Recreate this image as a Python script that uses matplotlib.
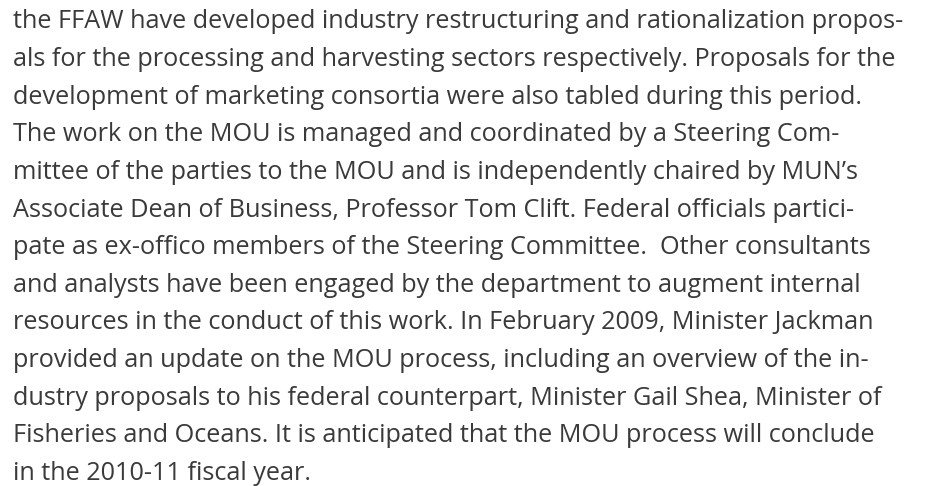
import matplotlib
matplotlib.use("Agg")
import matplotlib.pyplot as plt

# paragraph text, one entry per rendered line
lines = [
    "the FFAW have developed industry restructuring and rationalization propos-",
    "als for the processing and harvesting sectors respectively. Proposals for the",
    "development of marketing consortia were also tabled during this period.",
    "The work on the MOU is managed and coordinated by a Steering Com-",
    "mittee of the parties to the MOU and is independently chaired by MUN\u2019s",
    "Associate Dean of Business, Professor Tom Clift. Federal officials partici-",
    "pate as ex-offico members of the Steering Committee.  Other consultants",
    "and analysts have been engaged by the department to augment internal",
    "resources in the conduct of this work. In February 2009, Minister Jackman",
    "provided an update on the MOU process, including an overview of the in-",
    "dustry proposals to his federal counterpart, Minister Gail Shea, Minister of",
    "Fisheries and Oceans. It is anticipated that the MOU process will conclude",
    "in the 2010-11 fiscal year.",
]

W, H = 925, 486
fig = plt.figure(figsize=(W / 100, H / 100), dpi=100)
fig.patch.set_facecolor("white")

first_baseline = 28.5
line_step = 37.6
for i, txt in enumerate(lines):
    y = H - (first_baseline + i * line_step)
    fig.text(13 / W, y / H, txt, family="Open Sans", fontsize=18.2,
             color="#3a3a3a", ha="left", va="baseline")

fig.savefig("out.png", dpi=100, facecolor="white")
